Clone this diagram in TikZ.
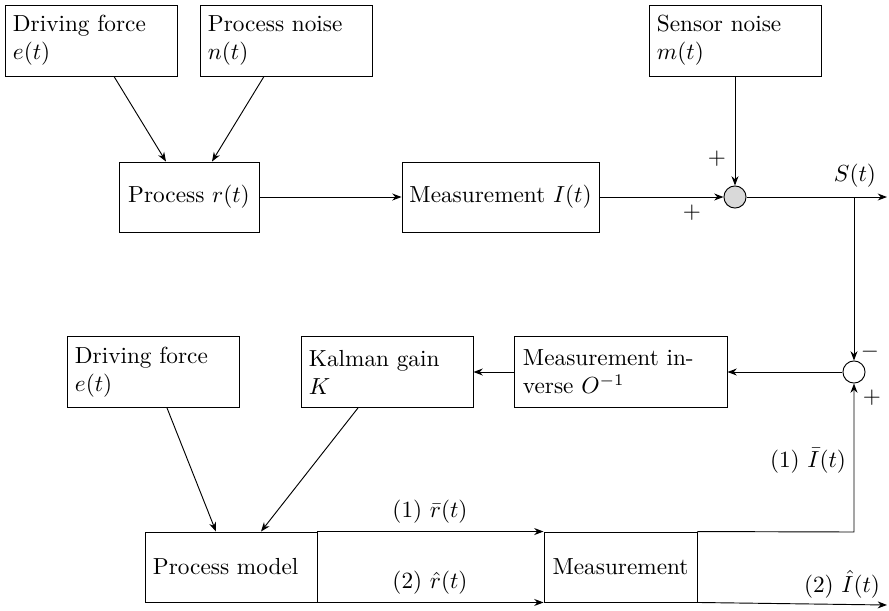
\documentclass[tikz,border=0pt]{standalone}
\usetikzlibrary{arrows.meta,calc}
\begin{document}
\begin{tikzpicture}[x=0.43pt,y=-0.43pt,line width=0.4pt,
 box/.style={draw,rectangle,inner sep=3.44pt,minimum width=73.96pt,minimum height=30.5pt,text width=67.1pt,align=left},
 wbox/.style={box,minimum width=91.2pt,text width=84.3pt},
 sbox/.style={draw,rectangle,inner sep=0pt,minimum width=60.2pt,minimum height=30.1pt,align=center},
 sumnode/.style={draw,circle,inner sep=0pt,minimum size=9.5pt},
 arr/.style={-{Stealth[length=4pt,width=3pt]}},
 lbl/.style={inner sep=1pt}]
\useasboundingbox (0,0) rectangle (889,610);
% top row
\node[box] (df1) at (91,40.5) {Driving force\\$e(t)$};
\node[box] (pn) at (286,40.5) {Process noise\\$n(t)$};
\node[box] (sn) at (735,40.5) {Sensor noise\\$m(t)$};
\node[sbox] (pr) at (189,197) {Process $r(t)$};
\node[sbox,minimum width=84.7pt] (mi) at (500.5,197) {Measurement $I(t)$};
\node[sumnode,fill=black!15] (s1) at (735,197) {};
\coordinate (out) at (887,197);
\coordinate (br) at (854,197);
% lower
\node[box] (df2) at (153,372) {Driving force\\$e(t)$};
\node[box] (kg) at (387,372) {Kalman gain\\$K$};
\node[wbox] (minv) at (621,372) {Measurement in-\\verse $O^{-1}$};
\node[sumnode,fill=white] (s2) at (854,372) {};
\node[box,minimum height=30.1pt] (pm) at (231,567) {Process model};
\node[sbox,minimum width=65.8pt] (ms) at (620.5,567) {Measurement};
\coordinate (c1) at (854,532);
\coordinate (out2) at (887,605);
% connectors top
\draw[arr] ($(df1.south)+(23,0)$) -- ($(pr.north)+(-23,0)$);
\draw[arr] ($(pn.south)+(-22,0)$) -- ($(pr.north)+(23,0)$);
\draw[arr] (pr) -- (mi);
\draw[arr] (mi) -- (s1);
\draw[arr] (sn) -- (s1);
\draw[arr] (s1) -- (out);
\draw[arr] (br) -- (s2);
% connectors lower
\draw[arr] (s2) -- (minv);
\draw[arr] (minv) -- (kg);
\draw[arr] ($(df2.south)+(14,0)$) -- ($(pm.north)+(-15,0)$);
\draw[arr] ($(kg.south)+(-29,0)$) -- ($(pm.north)+(30,0)$);
\draw[arr] (pm.north east) -- (ms.north west);
\draw[arr] (pm.south east) -- (ms.south west);
\draw[arr] (ms.north east) -- (c1) -- (s2);
\draw[arr] (ms.south east) -- (out2);
% labels
\node[lbl] at (855,176) {$S(t)$};
\node[lbl] at (717,159) {$+$};
\node[lbl] at (692,213) {$+$};
\node[lbl] at (870,352) {$-$};
\node[lbl] at (872,398) {$+$};
\node[lbl] at (808,461) {(1) $\bar{I}(t)$};
\node[lbl] at (842,584) {(2) $\hat{I}(t)$};
\node[lbl] at (430,512) {(1) $\bar{r}(t)$};
\node[lbl] at (430,583) {(2) $\hat{r}(t)$};
\end{tikzpicture}
\end{document}
